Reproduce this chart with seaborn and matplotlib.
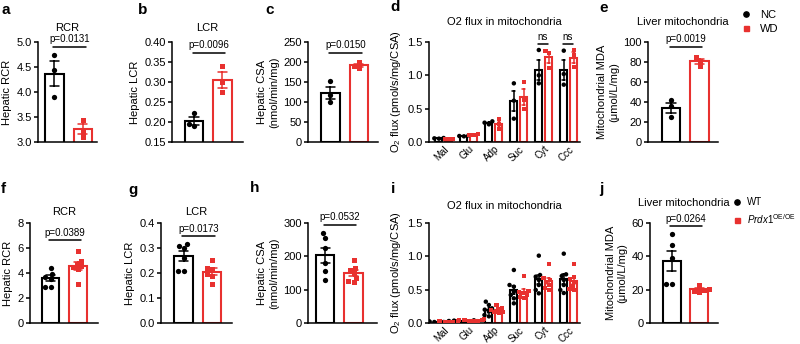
import numpy as np
import pandas as pd
import matplotlib
matplotlib.use("Agg")
import matplotlib.pyplot as plt
import matplotlib.transforms as mtrans
from matplotlib.lines import Line2D
import seaborn as sns

sns.set_theme(style="ticks")
plt.rcParams['font.family'] = ['Liberation Sans', 'DejaVu Sans']
plt.rcParams.update({
    'mathtext.fontset': 'custom',
    'mathtext.rm': 'Liberation Sans',
    'mathtext.it': 'Liberation Sans:italic',
    'axes.edgecolor': 'black', 'xtick.color': 'black', 'ytick.color': 'black',
    'text.color': 'black', 'axes.labelcolor': 'black',
})

BLACK = "black"
RED = "#e8312f"

# ---------------- data ----------------
groups_top = ["NC", "WD"]
groups_bot = ["WT", "Prdx1"]
legend_bot = ["WT", r"$\mathit{Prdx1}^{\mathrm{OE/OE}}$"]
substrates = ["Mal", "Glu", "Adp", "Suc", "Cyt", "Ccc"]

rcr_nc = [4.75, 4.45, 3.91]
rcr_wd = [3.45, 3.21, 3.11]
lcr_nc = [0.222, 0.195, 0.19]
lcr_wd = [0.34, 0.30, 0.275]
csa_nc = [152, 118, 100]
csa_wd = [200, 190, 184]
mda_nc = [42, 36, 25]
mda_wd = [85, 81, 76]
flux_nc_top = [[0.06, 0.055, 0.05], [0.10, 0.09, 0.085], [0.31, 0.29, 0.265],
               [0.88, 0.62, 0.35], [1.38, 1.00, 0.88], [1.37, 1.02, 0.86]]
flux_wd_top = [[0.05, 0.045, 0.04], [0.115, 0.105, 0.10], [0.34, 0.27, 0.19],
               [0.90, 0.63, 0.50], [1.37, 1.33, 1.105], [1.38, 1.30, 1.12]]

rcr_wt = [4.4, 3.95, 3.7, 3.55, 2.9, 2.9]
rcr_oe = [5.8, 5.0, 4.75, 4.6, 4.45, 4.3, 3.1]
lcr_wt = [0.315, 0.31, 0.30, 0.26, 0.21, 0.21]
lcr_oe = [0.253, 0.222, 0.215, 0.195, 0.188, 0.155]
csa_wt = [270, 255, 225, 180, 157, 130]
csa_oe = [190, 165, 160, 150, 135, 125, 122]
mda_wt = [53.5, 47, 39, 23.5, 23.5]
mda_oe = [23, 20.5, 20, 19.5, 18.5]
flux_wt_bot = [[0.03, 0.025, 0.02, 0.02, 0.015, 0.015, 0.01],
               [0.04, 0.035, 0.03, 0.03, 0.025, 0.02, 0.02],
               [0.32, 0.27, 0.22, 0.20, 0.17, 0.12, 0.10],
               [0.795, 0.57, 0.545, 0.47, 0.42, 0.37, 0.295],
               [1.01, 0.72, 0.695, 0.645, 0.57, 0.495, 0.445],
               [1.04, 0.73, 0.705, 0.645, 0.57, 0.495, 0.45]]
flux_oe_bot = [[0.04, 0.035, 0.03, 0.025, 0.02, 0.02, 0.015],
               [0.06, 0.05, 0.045, 0.04, 0.035, 0.03, 0.025],
               [0.27, 0.23, 0.21, 0.195, 0.17, 0.16, 0.15],
               [0.705, 0.48, 0.46, 0.445, 0.42, 0.395, 0.38],
               [0.88, 0.67, 0.645, 0.62, 0.57, 0.52, 0.50],
               [0.88, 0.695, 0.66, 0.62, 0.56, 0.51, 0.50]]

p_top = ["p=0.0131", "p=0.0096", "p=0.0150", "p=0.0019"]
p_bot = ["p=0.0389", "p=0.0173", "p=0.0532", "p=0.0264"]

# ---------------- figure ----------------
W, H = 800, 344
fig = plt.figure(figsize=(8, 3.44), dpi=100)


def add_ax(x0, x1, y0, y1):
    return fig.add_axes([x0 / W, 1 - y1 / H, (x1 - x0) / W, (y1 - y0) / H])


FS = 8


def style(ax):
    sns.despine(ax=ax)
    for s in ['left', 'bottom']:
        ax.spines[s].set_linewidth(1.1)
    ax.tick_params(axis='y', width=1.1, length=3, labelsize=FS, pad=1.5)
    ax.tick_params(axis='x', length=0)
    ax.set_xlabel('')


def bracket(ax, text, x0, x1, y):
    tr = mtrans.blended_transform_factory(ax.transData, ax.transAxes)
    ax.plot([x0, x1], [y, y], transform=tr, color='black', lw=1.1, clip_on=False)
    ax.text((x0 + x1) / 2, y + 0.025, text, transform=tr, ha='center', va='bottom',
            fontsize=7)


def two_group(ax, a, b, groups, ylim, yticks, fmt, ylabel, xlim, ptext, py,
              title=None, tpad=8):
    df = pd.DataFrame({"group": [groups[0]] * len(a) + [groups[1]] * len(b),
                       "value": a + b})
    sns.barplot(data=df, x="group", y="value", hue="group", order=groups,
                hue_order=groups, palette=[BLACK, RED], fill=False, errorbar="se",
                capsize=0.32, width=0.65, linewidth=1.5,
                err_kws={"linewidth": 1.1}, legend=False, ax=ax)
    for ln in ax.lines:
        xm = np.nanmean(ln.get_xdata())
        ln.set_color([BLACK, RED][int(round(xm))])
    sns.swarmplot(data=df[df.group == groups[0]], x="group", y="value",
                  order=groups, color=BLACK, marker="o", size=3.8, ax=ax)
    sns.swarmplot(data=df[df.group == groups[1]], x="group", y="value",
                  order=groups, color=RED, marker="s", size=3.6, ax=ax)
    ax.set_ylim(*ylim)
    ax.set_yticks(yticks)
    ax.set_yticklabels([fmt.format(t) for t in yticks])
    ax.set_xlim(*xlim)
    ax.set_xticks([])
    style(ax)
    ax.set_ylabel(ylabel, fontsize=FS, labelpad=3)
    bracket(ax, ptext, -0.05, 1.1, py)
    if title:
        ax.set_title(title, fontsize=FS, pad=tpad)


def flux(ax, nc, wd, groups, title, tpad, ns=False):
    rows = []
    for s, vals in zip(substrates, nc):
        rows += [(s, groups[0], v) for v in vals]
    for s, vals in zip(substrates, wd):
        rows += [(s, groups[1], v) for v in vals]
    df = pd.DataFrame(rows, columns=["substrate", "group", "value"])
    sns.barplot(data=df, x="substrate", y="value", hue="group", order=substrates,
                hue_order=groups, palette=[BLACK, RED], fill=False, errorbar="se",
                capsize=0.22, width=0.8, gap=0.3, linewidth=1.5, dodge=True,
                err_kws={"linewidth": 1.1}, legend=False, ax=ax)
    for ln in ax.lines:
        xm = np.nanmean(ln.get_xdata())
        ln.set_color(BLACK if xm - round(xm) < 0 else RED)
    for g, c, m, sz in [(groups[0], BLACK, "o", 3.2), (groups[1], RED, "s", 3.0)]:
        sns.swarmplot(data=df[df.group == g], x="substrate", y="value", hue="group",
                      order=substrates, hue_order=groups, palette=[c, c], dodge=True,
                      marker=m, size=sz, legend=False, ax=ax)
    ax.set_ylim(0, 1.5)
    ax.set_yticks([0, 0.5, 1.0, 1.5])
    ax.set_yticklabels(["0.0", "0.5", "1.0", "1.5"])
    ax.set_xlim(-0.6, 5.45)
    style(ax)
    ax.set_xticks(range(len(substrates)))
    ax.set_xticklabels(substrates, rotation=45, ha='right', rotation_mode='anchor',
                       fontsize=7)
    ax.tick_params(axis='x', pad=1.5)
    ax.set_ylabel("O$_2$ flux (pmol/s/mg/CSA)", fontsize=FS, labelpad=3)
    ax.set_title(title, fontsize=FS, pad=tpad)
    if ns:
        for k in [4, 5]:
            bracket(ax, "ns", k - 0.22, k + 0.16, 0.98)


# ---- top row ----
TY = (42, 142)
ax = add_ax(38, 97, *TY)
two_group(ax, rcr_nc, rcr_wd, groups_top, (3.0, 5.0), [3.0, 3.5, 4.0, 4.5, 5.0],
          "{:.1f}", "Hepatic RCR", (-0.58, 1.5), p_top[0], 0.95, "RCR", 8)
ax = add_ax(172, 243, *TY)
two_group(ax, lcr_nc, lcr_wd, groups_top, (0.15, 0.40),
          [0.15, 0.20, 0.25, 0.30, 0.35, 0.40], "{:.2f}", "Hepatic LCR",
          (-0.77, 1.72), p_top[1], 0.89, "LCR", 8)
ax = add_ax(308, 378, *TY)
two_group(ax, csa_nc, csa_wd, groups_top, (0, 250), [0, 50, 100, 150, 200, 250],
          "{:d}", "Hepatic CSA\n(nmol/min/mg)", (-0.79, 1.67), p_top[2], 0.89)
ax = add_ax(429, 580, *TY)
flux(ax, flux_nc_top, flux_wd_top, groups_top, "O2 flux in mitochondria", 12, ns=True)
ax = add_ax(648, 718, *TY)
two_group(ax, mda_nc, mda_wd, groups_top, (0, 100), [0, 20, 40, 60, 80, 100],
          "{:d}", "Mitochondrial MDA\n(μmol/L/mg)", (-0.81, 1.65), p_top[3], 0.95,
          "Liver mitochondria", 12)

# ---- bottom row ----
BY = (223, 323)
ax = add_ax(30, 98, *BY)
two_group(ax, rcr_wt, rcr_oe, groups_bot, (0, 8), [0, 2, 4, 6, 8], "{:d}",
          "Hepatic RCR", (-0.75, 1.73), p_bot[0], 0.83, "RCR", 6)
ax = add_ax(161, 232, *BY)
two_group(ax, lcr_wt, lcr_oe, groups_bot, (0, 0.4), [0.0, 0.1, 0.2, 0.3, 0.4],
          "{:.1f}", "Hepatic LCR", (-0.79, 1.7), p_bot[1], 0.87, "LCR", 6)
ax = add_ax(308, 377, *BY)
two_group(ax, csa_wt, csa_oe, groups_bot, (0, 300), [0, 100, 200, 300], "{:d}",
          "Hepatic CSA\n(nmol/min/mg)", (-0.6, 1.82), p_bot[2], 0.98)
ax = add_ax(429, 580, *BY)
flux(ax, flux_wt_bot, flux_oe_bot, groups_bot, "O2 flux in mitochondria", 10)
ax = add_ax(650, 718, *BY)
two_group(ax, mda_wt, mda_oe, groups_bot, (0, 60), [0, 20, 40, 60], "{:d}",
          "Mitochondrial MDA\n(μmol/L/mg)", (-0.8, 1.69), p_bot[3], 0.97,
          "Liver mitochondria", 12)

# ---- legends ----
def handles():
    return [Line2D([], [], marker='o', color=BLACK, ls='', markersize=3.8),
            Line2D([], [], marker='s', color=RED, ls='', markersize=3.6)]


fig.legend(handles=handles(), labels=groups_top, loc='upper left',
           bbox_to_anchor=(742 / W, 1 - 10 / H), frameon=False, fontsize=8,
           handlelength=0.8, handletextpad=0.8, labelspacing=0.35,
           borderaxespad=0, borderpad=0)
fig.legend(handles=handles(), labels=legend_bot, loc='upper left',
           bbox_to_anchor=(733 / W, 1 - 197 / H), frameon=False, fontsize=7,
           handlelength=0.8, handletextpad=0.6, labelspacing=0.5,
           borderaxespad=0, borderpad=0)

# ---- panel letters ----
letters = [("a", 1, 10), ("b", 138, 10), ("c", 265, 10), ("d", 390, 7), ("e", 599, 8),
           ("f", 1, 189), ("g", 128, 190), ("h", 250, 188), ("i", 391, 189),
           ("j", 599, 189)]
for t, x, y in letters:
    fig.text(x / W, 1 - y / H, t, fontsize=11, fontweight='bold', ha='left',
             va='center')

fig.savefig("out.png", dpi=100)
